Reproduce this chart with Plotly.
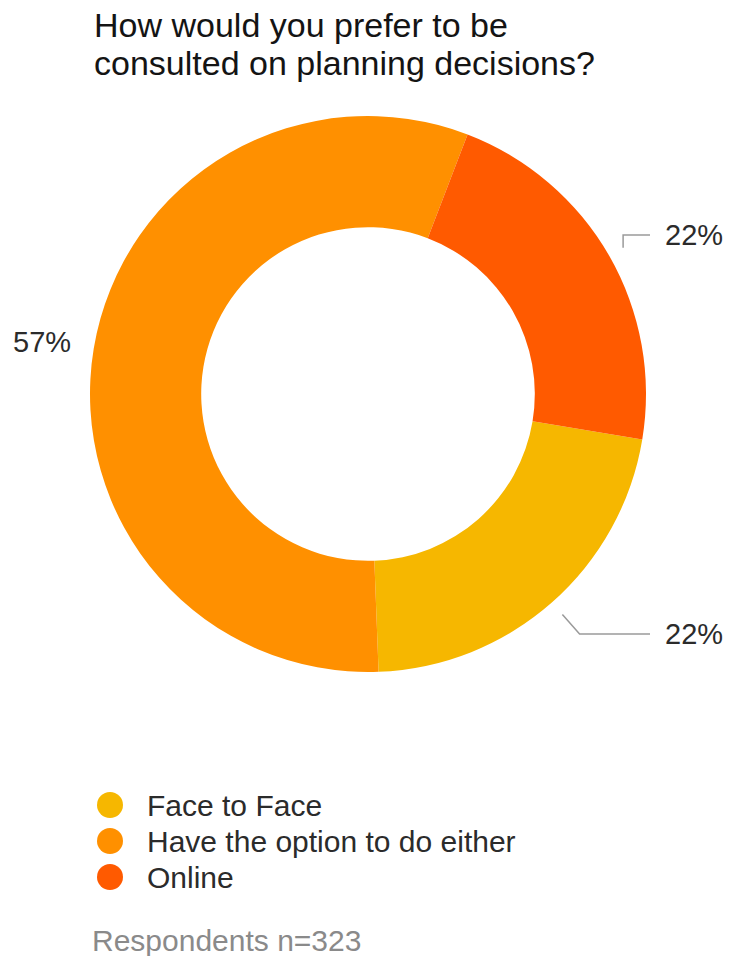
import math
import plotly.graph_objects as go

# Survey responses: preferred way to be consulted on planning decisions
categories = ["Face to Face", "Have the option to do either", "Online"]
shares = [22, 57, 22]          # percent of respondents
respondents = 323
title_lines = ["How would you prefer to be", "consulted on planning decisions?"]

# Styling
colors = ["#F6B700", "#FF9000", "#FF5A00"]
FONT = "Liberation Sans, Arial, Helvetica, sans-serif"
TITLE_COLOR = "#141414"
TEXT_COLOR = "#2b2b2b"
NOTE_COLOR = "#8a8a8a"
LEADER_COLOR = "#9a9a9a"

# Geometry (pixels)
W, H = 729, 956
CX, CY, R = 368, 394, 278      # donut centre and outer radius
HOLE = 0.6
START = 99.4                   # where the first slice begins, degrees clockwise from 12 o'clock
R_LEADER = 294                 # leader lines start just outside the ring
R_LABEL = 320                  # radius used to place the label rows
LINE_END = 282                 # horizontal reach of leader lines from the centre
LABEL_GAP = 13                 # gap between a leader line and its label
LABEL_SIZE = 29
LEGEND_SIZE = 30
TITLE_SIZE = 34
TITLE_X, TITLE_Y, TITLE_STEP = 92, 25, 38


def px(x):
    return x / W


def py(y):
    return 1 - y / H


fig = go.Figure(
    go.Pie(
        labels=categories,
        values=shares,
        marker=dict(colors=colors, line=dict(width=0)),
        hole=HOLE,
        sort=False,
        direction="clockwise",
        rotation=START,
        textinfo="none",
        hovertemplate="%{label}: %{value}%<extra></extra>",
        showlegend=False,
        domain=dict(x=[px(CX - R), px(CX + R)], y=[py(CY + R), py(CY - R)]),
    )
)

annotations = []
shapes = []

# Two-line heading
for i, line in enumerate(title_lines):
    annotations.append(dict(
        text=line, x=px(TITLE_X), y=py(TITLE_Y + i * TITLE_STEP),
        xref="paper", yref="paper", xanchor="left", yanchor="middle",
        showarrow=False, font=dict(family=FONT, size=TITLE_SIZE, color=TITLE_COLOR),
    ))

# Percentage labels around the ring, with leader lines where needed
total = sum(shares)
angle = START
for value in shares:
    span = 360.0 * value / total
    mid = math.radians(angle + span / 2)
    angle += span
    s, c = math.sin(mid), math.cos(mid)
    sx, sy = CX + R_LEADER * s, CY - R_LEADER * c
    ex, ey = CX + R_LABEL * s, CY - R_LABEL * c
    side = 1 if s >= 0 else -1
    line_end = CX + side * LINE_END
    text_x = line_end + side * LABEL_GAP
    if (line_end - sx) * side > 0:
        if (line_end - ex) * side >= 12:
            elbow = (ex, ey)
        else:
            elbow = (sx, ey)
        shapes.append(dict(
            type="path", xref="paper", yref="paper",
            path=f"M {px(sx)},{py(sy)} L {px(elbow[0])},{py(elbow[1])} L {px(line_end)},{py(ey)}",
            line=dict(color=LEADER_COLOR, width=1.5),
        ))
    annotations.append(dict(
        text=f"{value}%", x=px(text_x), y=py(ey), xref="paper", yref="paper",
        xanchor="left" if side > 0 else "right", yanchor="middle",
        showarrow=False, font=dict(family=FONT, size=LABEL_SIZE, color=TEXT_COLOR),
    ))

# Legend: coloured dots with category names
LEG_X, LEG_Y, LEG_STEP, DOT_R, LEG_TEXT_X = 110, 805, 36, 13, 145
for i, (cat, col) in enumerate(zip(categories, colors)):
    yc = LEG_Y + i * LEG_STEP
    shapes.append(dict(
        type="circle", xref="paper", yref="paper",
        x0=px(LEG_X - DOT_R), x1=px(LEG_X + DOT_R),
        y0=py(yc + DOT_R), y1=py(yc - DOT_R),
        fillcolor=col, line=dict(width=0),
    ))
    annotations.append(dict(
        text=cat, x=px(LEG_TEXT_X), y=py(yc), xref="paper", yref="paper",
        xanchor="left", yanchor="middle", showarrow=False,
        font=dict(family=FONT, size=LEGEND_SIZE, color=TEXT_COLOR),
    ))

# Sample size note
annotations.append(dict(
    text=f"Respondents n={respondents}", x=px(90), y=py(940), xref="paper", yref="paper",
    xanchor="left", yanchor="middle", showarrow=False,
    font=dict(family=FONT, size=LEGEND_SIZE, color=NOTE_COLOR),
))

fig.update_layout(
    width=W,
    height=H,
    margin=dict(l=0, r=0, t=0, b=0),
    paper_bgcolor="white",
    plot_bgcolor="white",
    annotations=annotations,
    shapes=shapes,
)

fig.write_html("out.html")
